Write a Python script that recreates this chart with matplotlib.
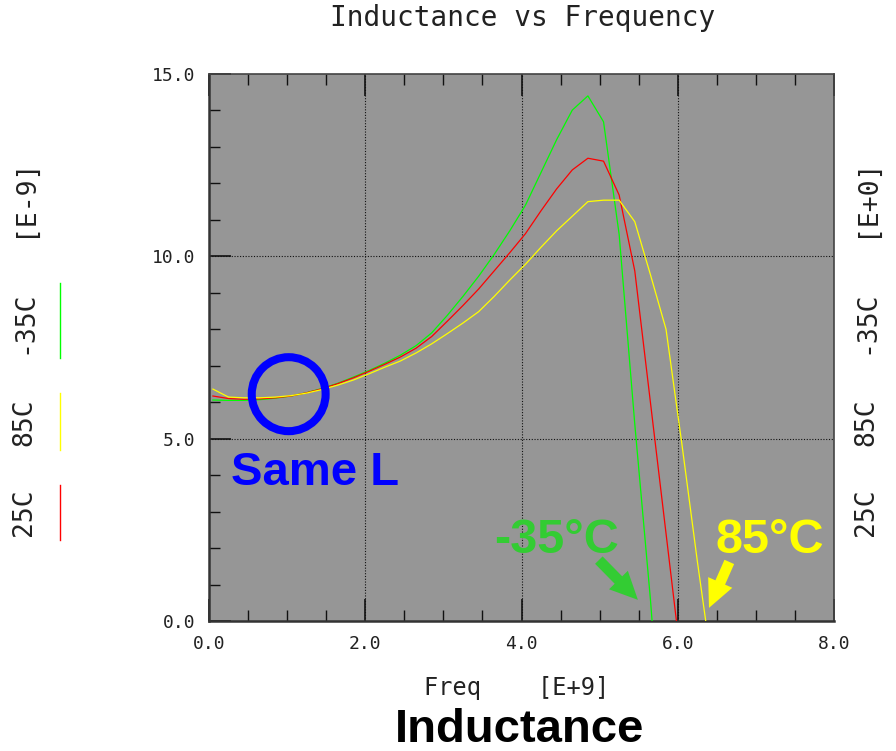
import matplotlib
matplotlib.use("Agg")
import matplotlib.pyplot as plt
from matplotlib.patches import Ellipse
from matplotlib.lines import Line2D
from matplotlib.ticker import MultipleLocator, FormatStrFormatter

# ---------------- data ----------------
freq = [0.05, 0.25, 0.45, 0.65, 0.85, 1.05, 1.25, 1.45, 1.65, 1.85, 2.05,
        2.25, 2.45, 2.65, 2.85, 3.05, 3.25, 3.45, 3.65, 3.85, 4.05, 4.25,
        4.45, 4.65, 4.85, 5.05, 5.25, 5.45, 5.65, 5.85, 6.05, 6.25, 6.45]

L_m35 = [6.06, 6.05, 6.05, 6.07, 6.11, 6.17, 6.26, 6.38, 6.52, 6.69, 6.87,
         7.07, 7.29, 7.55, 7.90, 8.38, 8.90, 9.45, 10.05, 10.70, 11.40, 12.30,
         13.20, 14.01, 14.40, 13.69, 10.60, 5.40, 0.60, -5.0]

L_25 = [6.17, 6.10, 6.08, 6.09, 6.12, 6.17, 6.26, 6.37, 6.51, 6.67, 6.85,
        7.04, 7.24, 7.48, 7.80, 8.22, 8.65, 9.10, 9.60, 10.10, 10.62, 11.25,
        11.85, 12.37, 12.69, 12.61, 11.68, 9.60, 6.00, 2.40, -1.20]

L_85 = [6.36, 6.14, 6.12, 6.12, 6.14, 6.18, 6.25, 6.35, 6.47, 6.61, 6.78,
        6.96, 7.13, 7.35, 7.60, 7.88, 8.17, 8.48, 8.90, 9.35, 9.78, 10.25,
        10.70, 11.10, 11.50, 11.54, 11.54, 10.95, 9.50, 8.00, 4.90, 1.65, -1.40]

x_ticks = [0.0, 2.0, 4.0, 6.0, 8.0]
y_ticks = [0.0, 5.0, 10.0, 15.0]
series_labels = ["25C", "85C", "-35C"]

# ---------------- figure ----------------
W, H = 896, 751
fig = plt.figure(figsize=(W / 100, H / 100), dpi=100)
fig.patch.set_facecolor("white")

def fx(px):
    return px / W

def fy(py):
    return 1 - py / H

ax_l, ax_r, ax_t, ax_b = 209, 834, 74, 621
ax = fig.add_axes([fx(ax_l), fy(ax_b), (ax_r - ax_l) / W, (ax_b - ax_t) / H])
ax.set_facecolor("#969696")
ax.set_xlim(0, 8)
ax.set_ylim(0, 15)

mono = "DejaVu Sans Mono"
bold = "Liberation Sans"
txtc = "#222222"

# grid
for gx in [2, 4, 6]:
    ax.axvline(gx, color="#111111", lw=0.8, ls=(0, (1, 1.5)), zorder=1)
for gy in [5, 10]:
    ax.axhline(gy, color="#111111", lw=0.8, ls=(0, (1, 1.5)), zorder=1)

# curves
ax.plot(freq[:len(L_m35)], L_m35, color="#00ff00", lw=0.9, zorder=3)
ax.plot(freq[:len(L_25)], L_25, color="#ff0000", lw=0.9, zorder=3)
ax.plot(freq[:len(L_85)], L_85, color="#ffff00", lw=0.9, zorder=3)

# ticks
ax.xaxis.set_major_locator(plt.FixedLocator(x_ticks))
ax.xaxis.set_minor_locator(MultipleLocator(0.5))
ax.yaxis.set_major_locator(plt.FixedLocator(y_ticks))
ax.yaxis.set_minor_locator(MultipleLocator(1.0))
ax.xaxis.set_major_formatter(FormatStrFormatter("%.1f"))
ax.yaxis.set_major_formatter(FormatStrFormatter("%.1f"))
ax.tick_params(axis="x", which="major", direction="in", length=16, width=1.2,
               top=True, bottom=True, color="#111111", pad=10, labelsize=13,
               labelcolor=txtc)
ax.tick_params(axis="x", which="minor", direction="in", length=8, width=1.0,
               top=True, bottom=True, color="#111111")
ax.tick_params(axis="y", which="major", direction="in", length=16, width=1.2,
               left=True, right=False, color="#111111", pad=10, labelsize=13,
               labelcolor=txtc)
ax.tick_params(axis="y", which="minor", direction="in", length=8, width=1.0,
               left=True, right=False, color="#111111")
for lab in ax.get_xticklabels() + ax.get_yticklabels():
    lab.set_family(mono)

for s in ["left", "bottom"]:
    ax.spines[s].set_linewidth(1.8)
    ax.spines[s].set_color("#333333")
for s in ["top", "right"]:
    ax.spines[s].set_linewidth(1.2)
    ax.spines[s].set_color("#444444")

# circle highlighting same L
ax.add_patch(Ellipse((1.02, 6.22), width=2 * 37 / 78.25, height=2 * 37 / 36.47,
                     fill=False, edgecolor="#0000ff", lw=5.8, zorder=5))

# annotations
ax.text(1.36, 4.05, "Same L", color="#0000ff", fontsize=34, fontweight="bold",
        family=bold, ha="center", va="center", zorder=6)
ax.text(4.45, 2.22, "-35°C", color="#33cc33", fontsize=35, fontweight="bold",
        family=bold, ha="center", va="center", zorder=6)
ax.text(7.18, 2.22, "85°C", color="#ffff00", fontsize=35, fontweight="bold",
        family=bold, ha="center", va="center", zorder=6)
astyle = "simple,head_length=1.0,head_width=0.95,tail_width=0.38"
ax.annotate("", xy=(5.49, 0.58), xytext=(4.99, 1.67),
            arrowprops=dict(arrowstyle=astyle, color="#33cc33", lw=0,
                            mutation_scale=20, shrinkA=0, shrinkB=0), zorder=6)
ax.annotate("", xy=(6.40, 0.36), xytext=(6.66, 1.62),
            arrowprops=dict(arrowstyle=astyle, color="#ffff00", lw=0,
                            mutation_scale=20, shrinkA=0, shrinkB=0), zorder=6)

# titles / labels
fig.text(fx(523), fy(18), "Inductance vs Frequency", family=mono, fontsize=20,
         ha="center", va="center", color=txtc)
fig.text(fx(517), fy(688), "Freq    [E+9]", family=mono, fontsize=17,
         ha="center", va="center", color=txtc)
fig.text(fx(520), fy(730), "Inductance", family=bold, fontweight="bold",
         fontsize=34, ha="center", va="center", color="black")

# side labels
side_pos = {"25C": 512, "85C": 422, "-35C": 322}
for lab in series_labels:
    fig.text(fx(24), fy(side_pos[lab]), lab, family=mono, fontsize=19,
             rotation=90, ha="center", va="center", color=txtc)
    fig.text(fx(866), fy(side_pos[lab]), lab, family=mono, fontsize=19,
             rotation=90, ha="center", va="center", color=txtc)
fig.text(fx(24), fy(197), "[E-9]", family=mono, fontsize=19, rotation=90,
         ha="center", va="center", color=txtc)
fig.text(fx(866), fy(197), "[E+0]", family=mono, fontsize=19, rotation=90,
         ha="center", va="center", color=txtc)

# colour keys
keys = [("#00ff00", 283, 358), ("#ffff00", 393, 450), ("#ff0000", 485, 540)]
for c, y0, y1 in keys:
    fig.add_artist(Line2D([fx(60), fx(60)], [fy(y0), fy(y1)], color=c, lw=1.0,
                          transform=fig.transFigure))

fig.savefig("out.png", dpi=100)
